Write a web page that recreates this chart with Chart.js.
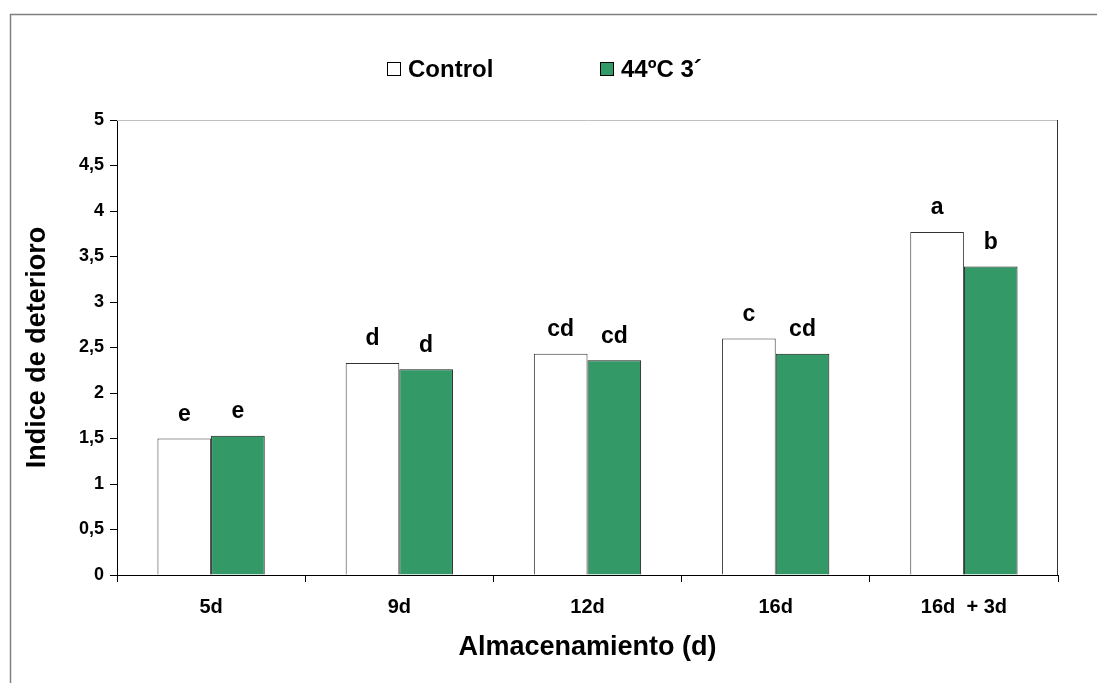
<!DOCTYPE html>
<html>
<head>
<meta charset="utf-8">
<script src="https://cdn.jsdelivr.net/npm/chart.js@4"></script>
<style>
    html, body { margin: 0; padding: 0; background: #fff; }
    #wrap { width: 1097px; height: 683px; }
</style>
</head>
<body>
<div id="wrap"><canvas id="deterioroChart" width="1097" height="683"></canvas></div>
<script>
const categories = ['5d', '9d', '12d', '16d', '16d  + 3d'];
const controlValues = [1.50, 2.33, 2.43, 2.60, 3.77];
const heatValues = [1.53, 2.26, 2.36, 2.43, 3.39];
const controlLetters = ['e', 'd', 'cd', 'c', 'a'];
const heatLetters = ['e', 'd', 'cd', 'cd', 'b'];
const yTicks = ['0', '0,5', '1', '1,5', '2', '2,5', '3', '3,5', '4', '4,5', '5'];

const fontFamily = "Arial, 'Liberation Sans', sans-serif";

// gray frame around the whole picture, border lines of the plot area
const framePlugin = {
    id: 'frame',
    beforeDraw(chart) {
        const ctx = chart.ctx;
        ctx.save();
        ctx.fillStyle = '#fff';
        ctx.fillRect(0, 0, chart.width, chart.height);
        ctx.strokeStyle = '#808080';
        ctx.lineWidth = 1.5;
        ctx.beginPath();
        ctx.moveTo(10.5, chart.height);
        ctx.lineTo(10.5, 14.5);
        ctx.lineTo(chart.width, 14.5);
        ctx.stroke();
        ctx.restore();
    },
    afterDatasetsDraw(chart) {
        const {ctx, chartArea} = chart;
        ctx.save();
        ctx.lineWidth = 1;
        ctx.strokeStyle = '#c0c0c0';
        ctx.beginPath();
        ctx.moveTo(chartArea.left, chartArea.top + 0.5);
        ctx.lineTo(chartArea.right, chartArea.top + 0.5);
        ctx.stroke();
        ctx.strokeStyle = '#333';
        ctx.beginPath();
        ctx.moveTo(chartArea.right - 0.5, chartArea.top);
        ctx.lineTo(chartArea.right - 0.5, chartArea.bottom);
        ctx.stroke();
        ctx.restore();
    }
};

// letters of the significance test above every bar
const lettersPlugin = {
    id: 'letters',
    afterDatasetsDraw(chart) {
        const ctx = chart.ctx;
        const sets = [controlLetters, heatLetters];
        ctx.save();
        ctx.font = 'bold 23px ' + fontFamily;
        ctx.fillStyle = '#000';
        ctx.textAlign = 'center';
        ctx.textBaseline = 'middle';
        sets.forEach((letters, i) => {
            chart.getDatasetMeta(i).data.forEach((bar, j) => {
                ctx.fillText(letters[j], bar.x, bar.y - 24);
            });
        });
        ctx.restore();
    }
};

// legend drawn by hand to keep the wide gap between the two items
const legendPlugin = {
    id: 'customLegend',
    afterDraw(chart) {
        const ctx = chart.ctx;
        const xs = [387, 600];
        ctx.save();
        ctx.font = 'bold 24px ' + fontFamily;
        ctx.textBaseline = 'middle';
        chart.data.datasets.forEach((ds, i) => {
            const x = xs[i];
            const y = 69;
            ctx.fillStyle = ds.backgroundColor;
            ctx.fillRect(x + 0.5, y - 6.5, 13, 13);
            ctx.strokeStyle = '#000';
            ctx.lineWidth = 1;
            ctx.strokeRect(x + 0.5, y - 6.5, 13, 13);
            ctx.fillStyle = '#000';
            ctx.fillText(ds.label, x + 21, y + 1);
        });
        ctx.restore();
    }
};

const config = {
    type: 'bar',
    data: {
        labels: categories,
        datasets: [{
            label: 'Control',
            data: controlValues,
            backgroundColor: '#ffffff',
            borderColor: '#333333',
            borderWidth: 1,
            categoryPercentage: 0.57,
            barPercentage: 1
        }, {
            label: '44ºC 3´',
            data: heatValues,
            backgroundColor: '#339966',
            borderColor: '#1a1a1a',
            borderWidth: 1,
            categoryPercentage: 0.57,
            barPercentage: 1
        }]
    },
    options: {
        responsive: false,
        animation: false,
        events: [],
        layout: {
            padding: { left: 0, top: 120, right: 39, bottom: 0 }
        },
        plugins: {
            legend: { display: false },
            tooltip: { enabled: false }
        },
        scales: {
            x: {
                grid: {
                    drawOnChartArea: false,
                    tickLength: 7,
                    color: '#000',
                    offset: true
                },
                border: { color: '#000', width: 1 },
                ticks: {
                    color: '#000',
                    padding: 13,
                    font: { family: fontFamily, size: 20, weight: 'bold' }
                },
                title: {
                    display: true,
                    text: 'Almacenamiento (d)',
                    color: '#000',
                    padding: { top: 0, bottom: 19 },
                    font: { family: fontFamily, size: 27, weight: 'bold' }
                },
                afterFit(scale) { scale.height = 108; }
            },
            y: {
                min: 0,
                max: 5,
                grid: {
                    drawOnChartArea: false,
                    tickLength: 7,
                    color: '#000'
                },
                border: { color: '#000', width: 1 },
                ticks: {
                    stepSize: 0.5,
                    color: '#000',
                    padding: 6,
                    font: { family: fontFamily, size: 18, weight: 'bold' },
                    callback: (value, index) => yTicks[index]
                },
                title: {
                    display: true,
                    text: 'Indice de deterioro',
                    color: '#000',
                    padding: { top: 21, bottom: 0 },
                    font: { family: fontFamily, size: 27, weight: 'bold' }
                },
                afterFit(scale) { scale.width = 117; }
            }
        }
    },
    plugins: [framePlugin, lettersPlugin, legendPlugin]
};

const ctx = document.getElementById('deterioroChart').getContext('2d');
const deterioroChart = new Chart(ctx, config);
</script>
</body>
</html>
